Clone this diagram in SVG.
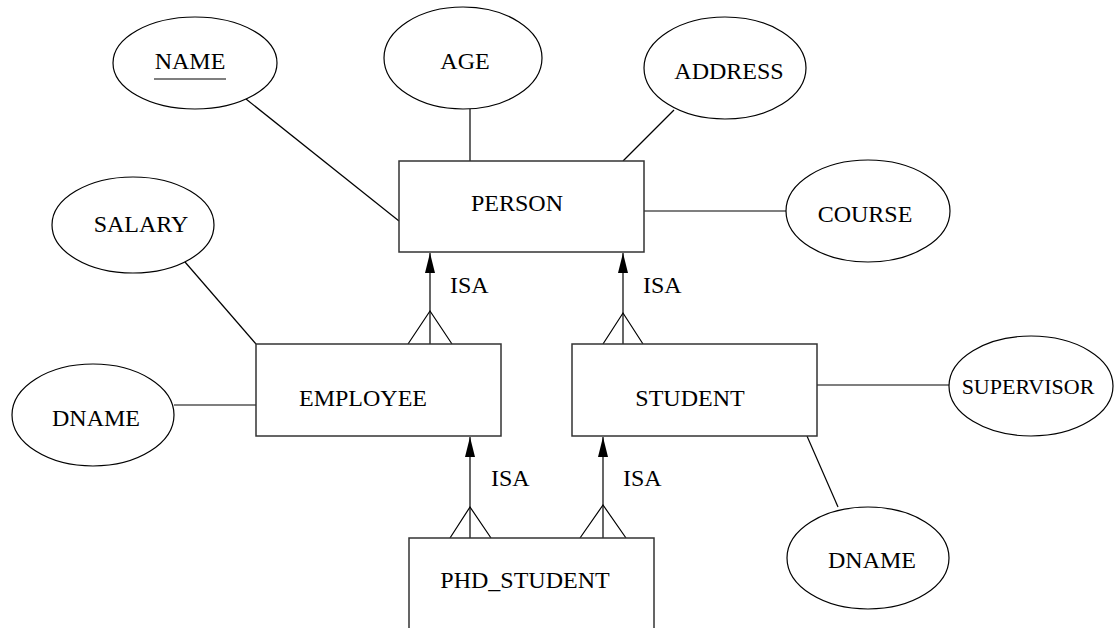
<svg xmlns="http://www.w3.org/2000/svg" width="1115" height="628" viewBox="0 0 1115 628">
<defs>
<marker id="arr" markerUnits="userSpaceOnUse" markerWidth="20" markerHeight="10" refX="20" refY="5" orient="auto" viewBox="0 0 20 10">
<path d="M0,0 L20,5 L0,10 Z" fill="#000"/>
</marker>
</defs>
<style>
text{font-family:"Liberation Serif","Times New Roman",serif;font-size:24px;fill:#000;text-anchor:middle}
.isa{text-anchor:start}
ellipse{fill:#fff;stroke:#000;stroke-width:1.2}
rect{fill:#fff;stroke:#333;stroke-width:1.5}
.c line,.c polyline{stroke:#000;stroke-width:1.2;fill:none}
</style>
<rect width="1115" height="628" fill="#fff" style="stroke:none"/>
<g class="c" id="connectors">
<line x1="246" y1="99" x2="399" y2="221"/>
<line x1="470" y1="109" x2="470" y2="161"/>
<line x1="674" y1="110" x2="623" y2="161"/>
<line x1="644" y1="211" x2="786" y2="211"/>
<line x1="185" y1="262" x2="256" y2="344"/>
<line x1="174" y1="405" x2="256" y2="405"/>
<line x1="817" y1="385" x2="949" y2="385"/>
<line x1="807" y1="436" x2="838" y2="507"/>
<line x1="430" y1="344" x2="430" y2="253" marker-end="url(#arr)"/>
<polyline points="408,344 430,311 452,344"/>
<line x1="623" y1="344" x2="623" y2="253" marker-end="url(#arr)"/>
<polyline points="603,344 623,313 643,344"/>
<line x1="470" y1="538" x2="470" y2="437" marker-end="url(#arr)"/>
<polyline points="450,538 470,507 491,538"/>
<line x1="603" y1="538" x2="603" y2="437" marker-end="url(#arr)"/>
<polyline points="580,538 603,505 626,538"/>
<text class="isa" x="450" y="293">ISA</text>
<text class="isa" x="643" y="293">ISA</text>
<text class="isa" x="491" y="486">ISA</text>
<text class="isa" x="623" y="486">ISA</text>
</g>
<g id="name"><ellipse cx="195" cy="63" rx="82" ry="46"/><text x="190" y="69">NAME</text><line x1="154" y1="79" x2="226" y2="79" stroke="#000" stroke-width="1.2"/></g>
<g id="age"><ellipse cx="463" cy="58" rx="79" ry="51"/><text x="465" y="69">AGE</text></g>
<g id="address"><ellipse cx="725" cy="68" rx="81" ry="51"/><text x="729" y="79">ADDRESS</text></g>
<g id="course"><ellipse cx="868" cy="211" rx="82" ry="51"/><text x="865" y="222">COURSE</text></g>
<g id="salary"><ellipse cx="133" cy="225" rx="81" ry="48"/><text x="141" y="232">SALARY</text></g>
<g id="dname1"><ellipse cx="93" cy="415" rx="81" ry="51"/><text x="96" y="426">DNAME</text></g>
<g id="supervisor"><ellipse cx="1031" cy="386" rx="82" ry="50"/><text x="1028" y="394" style="font-size:22px">SUPERVISOR</text></g>
<g id="dname2"><ellipse cx="868" cy="558" rx="81" ry="51"/><text x="872" y="568">DNAME</text></g>
<g id="person"><rect x="399" y="161" width="245" height="91"/><text x="517" y="211">PERSON</text></g>
<g id="employee"><rect x="256" y="344" width="245" height="92"/><text x="363" y="406">EMPLOYEE</text></g>
<g id="student"><rect x="572" y="344" width="245" height="92"/><text x="690" y="406">STUDENT</text></g>
<g id="phd_student"><rect x="409" y="538" width="245" height="110"/><text x="525" y="588">PHD_STUDENT</text></g>
</svg>
